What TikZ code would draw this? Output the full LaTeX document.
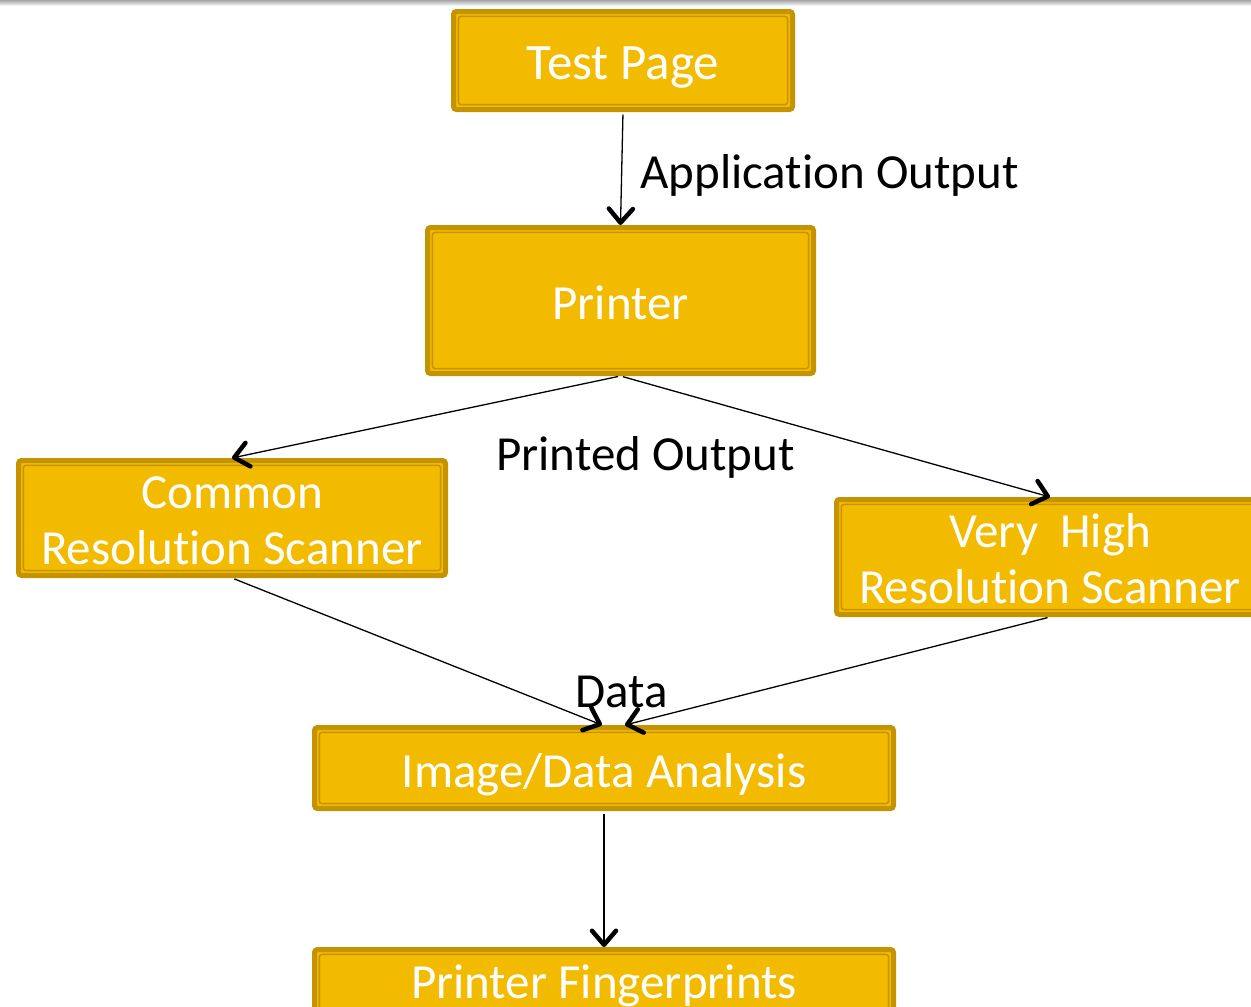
\documentclass[tikz,border=0pt]{standalone}
\usepackage{fontspec}
\setmainfont{Carlito}[Ligatures=NoCommon]
\usetikzlibrary{arrows.meta}
\definecolor{goldfill}{RGB}{243,187,0}
\definecolor{goldedge}{RGB}{197,147,0}
\tikzset{
  goldbox/.style={draw=goldedge, line width=5pt, fill=goldfill,
    rounded corners=3pt, inner sep=0pt, text=white, align=center,
    font=\fontsize{49}{56}\selectfont,
    path picture={\draw[goldedge, line width=1.5pt]
      ([shift={(4.8pt,4.8pt)}]path picture bounding box.south west)
      rectangle ([shift={(-4.8pt,-4.8pt)}]path picture bounding box.north east);}},
  oneline/.style={text height=38pt, text depth=0pt},
  twoline/.style={text height=92pt, text depth=0pt},
  lbl/.style={inner sep=0pt, text=black, font=\fontsize{49}{56}\selectfont},
  % thin connector ending in a heavy open V head
  conn/.style={line width=1.3pt, shorten <=2.5pt,
    -{Straight Barb[length=14pt, width=24pt, line width=4.5pt 0, round]}}
}
\begin{document}
\begin{tikzpicture}[x=1pt, y=-1pt]
  \useasboundingbox (0,0) rectangle (1251,1007);
  \clip (0,0) rectangle (1251,1007);
  % thin shaded rule along the top edge
  \shade[top color=black!35, bottom color=white] (0,0) rectangle (1251,6);

  % boxes
  \node[goldbox, oneline, font=\fontsize{51}{56}\selectfont,
    minimum width=339pt, minimum height=98pt]
    (test) at (623,60.5) {Test Page};
  \node[goldbox, oneline, minimum width=386pt, minimum height=146pt]
    (printer) at (620.5,300.5) {Printer};
  \node[goldbox, twoline, minimum width=427pt, minimum height=115pt]
    (common) at (232,518) {Common\\Resolution Scanner};
  \node[goldbox, twoline, minimum width=427pt, minimum height=115pt]
    (veryhigh) at (1050,557) {Very\ \ High\\Resolution Scanner};
  \node[goldbox, oneline, minimum width=579pt, minimum height=81pt]
    (analysis) at (604,768) {Image/Data Analysis};
  \node[goldbox, text height=30pt, text depth=14pt, minimum width=579pt, minimum height=81pt]
    (fingerprints) at (604,990) {Printer Fingerprints};

  % connectors
  \draw[conn] (test.south) -- (printer.north);
  \draw[conn] (printer.south) -- (common.north);
  \draw[conn] (printer.south) -- (veryhigh.north);
  \draw[conn] (common.south) -- ([xshift=-2pt]analysis.north);
  \draw[conn] (veryhigh.south) -- ([xshift=21pt]analysis.north);
  \draw[conn] (analysis.south) -- (fingerprints.north);

  % connector labels
  \node[lbl, anchor=base west] (appout) at (640,188) {Application Output};
  \node[lbl, anchor=base west] (prtout) at (496,470) {Printed Output};
  \node[lbl, anchor=base west] (data) at (575,707) {Data};
\end{tikzpicture}
\end{document}
